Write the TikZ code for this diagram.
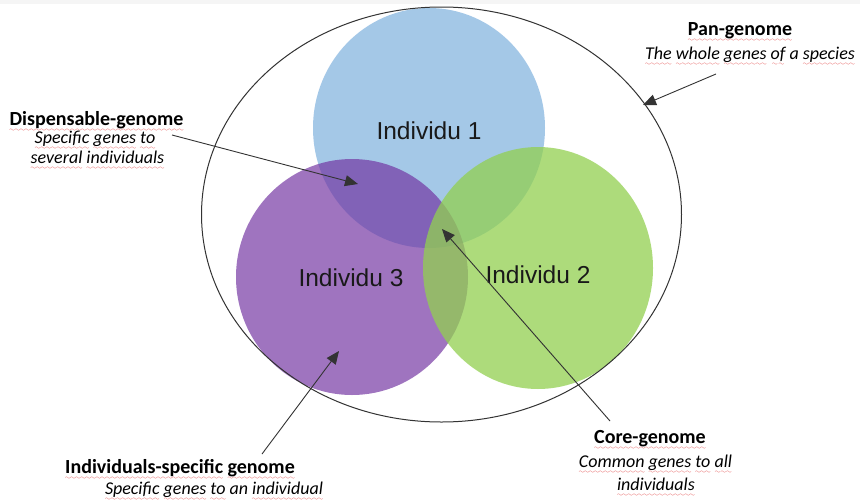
\documentclass[tikz,border=0pt]{standalone}
\usepackage{fontspec}
\setmainfont{Carlito}
\newfontfamily\indfont{Liberation Sans}
\usetikzlibrary{arrows.meta}
\definecolor{cblue}{HTML}{5B9BD5}
\definecolor{cpurple}{HTML}{7030A0}
\definecolor{cgreen}{HTML}{92D050}
\definecolor{wavered}{HTML}{E03030}
\definecolor{linegray}{HTML}{333333}
\font\mywavefont=lasy6\relax
\newsavebox\wvbox
\newcommand\wv[1]{\sbox\wvbox{#1}\rlap{\textcolor{wavered}{\lower6pt\hbox to \wd\wvbox{\xleaders\hbox{\mywavefont\char58}\hfil}}}\usebox\wvbox}
\tikzset{
  boldlbl/.style={anchor=base, inner sep=0pt, font=\fontsize{20}{24}\selectfont\bfseries},
  itlbl/.style={anchor=base, inner sep=0pt, font=\fontsize{18}{22}\selectfont\itshape},
  indlbl/.style={anchor=center, inner sep=0pt, font=\indfont\fontsize{24.5}{28}\selectfont, text=black!90},
  arr/.style={draw=linegray, line width=0.9pt, -{Triangle[length=13pt,width=11pt]}},
}
\begin{document}
\begin{tikzpicture}[x=1pt,y=-1pt]
\useasboundingbox (0,0) rectangle (860,501);
\fill[white] (0,0) rectangle (860,501);
\fill[black!4] (0,0) rectangle (860,4);
% circles
\fill[cblue, fill opacity=0.55] (429,128) ellipse [x radius=116, y radius=120];
\fill[cpurple, fill opacity=0.67] (352,277) ellipse [x radius=116, y radius=118];
\fill[cgreen, fill opacity=0.75] (538,268) ellipse [x radius=115, y radius=121];
% pan-genome ellipse
\draw[linegray, line width=1pt] (441.5,214.5) ellipse [x radius=240, y radius=207.5];
% circle labels
\node[indlbl] (i1) at (429,131) {Individu 1};
\node[indlbl] (i2) at (538,275) {Individu 2};
\node[indlbl] (i3) at (351,278) {Individu 3};
% text labels
\node[boldlbl] (pan) at (740,35) {\wv{Pan-genome}};
\node[itlbl] (pand) at (750,59) {\wv{The} \wv{whole} \wv{genes} \wv{of} a \wv{species}};
\node[boldlbl] (disp) at (96.5,125) {\wv{Dispensable-genome}};
\node[itlbl] (dispd1) at (95,143) {\wv{Specific} \wv{genes} \wv{to}};
\node[itlbl] (dispd2) at (97.5,163) {\wv{several} \wv{individuals}};
\node[boldlbl] (ind) at (180,473) {\wv{Individuals-specific} \wv{genome}};
\node[itlbl] (indd) at (214,494) {\wv{Specific} \wv{genes} \wv{to} an \wv{individual}};
\node[boldlbl] (core) at (650,443) {\wv{Core-genome}};
\node[itlbl] (cored1) at (655.5,467) {\wv{Common} \wv{genes} \wv{to} \wv{all}};
\node[itlbl] (cored2) at (656,490) {\wv{individuals}};
% arrows
\coordinate (panS) at (716,74);
\coordinate (panT) at (643,105);
\coordinate (dispS) at (172,135);
\coordinate (dispT) at (358,184);
\coordinate (coreS) at (610,421);
\coordinate (coreT) at (442,229);
\coordinate (indS) at (262,454);
\coordinate (indT) at (339,351);
\draw[arr] (panS) -- (panT);
\draw[arr] (dispS) -- (dispT);
\draw[arr] (coreS) -- (coreT);
\draw[arr] (indS) -- (indT);
\end{tikzpicture}
\end{document}
